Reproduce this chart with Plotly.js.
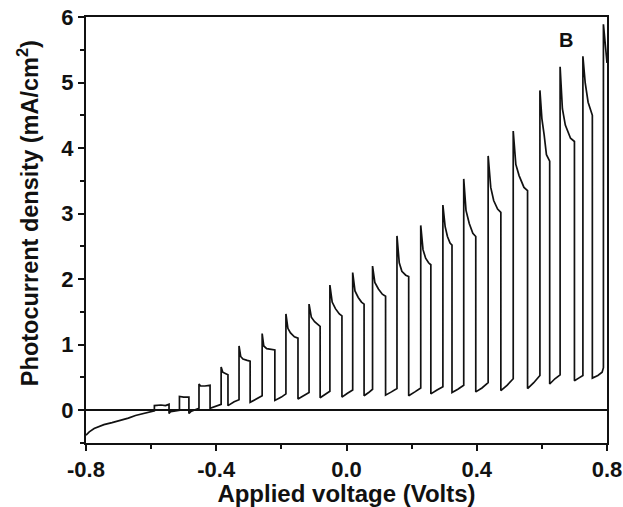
<!DOCTYPE html>
<html>
<head>
<meta charset="utf-8">
<script src="https://cdn.plot.ly/plotly-3.0.1.min.js"></script>
<style>html,body{margin:0;padding:0;background:#fff;}#chart{width:623px;height:507px;}</style>
</head>
<body>
<div id="chart"></div>
<script>
// Applied voltage (V) and photocurrent density (mA/cm^2)
const voltage = [
  -0.800,-0.790,-0.775,-0.760,-0.745,-0.720,-0.696,-0.670,-0.648,-0.620,-0.600,-0.590,
  -0.590,-0.570,-0.556,-0.545,-0.545,-0.540,-0.525,-0.513,
  -0.513,-0.500,-0.484,-0.484,-0.478,-0.465,-0.453,
  -0.453,-0.448,-0.435,-0.419,-0.419,-0.400,-0.385,
  -0.385,-0.380,-0.372,-0.364,-0.364,-0.345,-0.330,
  -0.330,-0.325,-0.318,-0.305,-0.296,-0.296,-0.277,-0.259,
  -0.259,-0.254,-0.245,-0.232,-0.220,-0.220,-0.200,-0.186,
  -0.186,-0.180,-0.172,-0.160,-0.149,-0.149,-0.130,-0.115,
  -0.115,-0.108,-0.098,-0.088,-0.081,-0.081,-0.065,-0.051,
  -0.051,-0.044,-0.034,-0.022,-0.014,-0.014,0.003,0.019,
  0.019,0.026,0.036,0.046,0.054,0.054,0.068,0.080,
  0.080,0.087,0.098,0.110,0.120,0.120,0.138,0.155,
  0.155,0.162,0.170,0.182,0.191,0.191,0.210,0.228,
  0.228,0.235,0.243,0.252,0.259,0.259,0.278,0.296,
  0.296,0.303,0.310,0.318,0.324,0.324,0.342,0.360,
  0.360,0.367,0.377,0.388,0.397,0.397,0.416,0.435,
  0.435,0.443,0.452,0.464,0.474,0.474,0.493,0.512,
  0.512,0.520,0.530,0.545,0.556,0.556,0.575,0.594,
  0.594,0.600,0.607,0.614,0.624,0.624,0.640,0.656,
  0.656,0.663,0.672,0.688,0.700,0.700,0.713,0.726,
  0.726,0.733,0.742,0.750,0.755,0.755,0.772,0.785,0.789,
  0.789,0.795,0.800
];
const current = [
  -0.38,-0.33,-0.28,-0.25,-0.22,-0.19,-0.16,-0.12,-0.08,-0.05,-0.02,-0.01,
  0.07,0.08,0.07,0.09,-0.05,-0.02,-0.01,0.00,
  0.21,0.20,0.20,-0.05,-0.02,0.00,0.03,
  0.40,0.37,0.37,0.38,0.03,0.06,0.09,
  0.66,0.58,0.56,0.54,0.07,0.13,0.16,
  0.98,0.82,0.78,0.76,0.75,0.12,0.17,0.22,
  1.17,0.98,0.94,0.93,0.92,0.15,0.20,0.25,
  1.47,1.25,1.18,1.12,1.10,0.17,0.22,0.27,
  1.62,1.42,1.35,1.30,1.28,0.19,0.24,0.29,
  1.91,1.65,1.55,1.47,1.44,0.20,0.26,0.31,
  2.10,1.82,1.72,1.65,1.62,0.22,0.27,0.32,
  2.20,1.95,1.85,1.77,1.74,0.23,0.28,0.33,
  2.66,2.25,2.12,2.06,2.04,0.22,0.28,0.34,
  2.82,2.45,2.32,2.25,2.22,0.25,0.31,0.36,
  3.13,2.80,2.65,2.55,2.52,0.27,0.32,0.38,
  3.53,3.05,2.85,2.70,2.65,0.28,0.34,0.42,
  3.88,3.40,3.20,3.07,3.02,0.30,0.38,0.48,
  4.26,3.75,3.58,3.40,3.35,0.33,0.42,0.53,
  4.88,4.45,4.20,3.90,3.80,0.40,0.48,0.54,
  5.24,4.60,4.35,4.15,4.10,0.45,0.49,0.53,
  5.40,5.00,4.70,4.55,4.50,0.49,0.53,0.58,0.65,
  5.89,5.50,5.30
];
const xTickVals = [-0.8, -0.4, 0.0, 0.4, 0.8];
const xTickText = ["-0.8", "-0.4", "0.0", "0.4", "0.8"];
const yTickVals = [0, 1, 2, 3, 4, 5, 6];
const yTickText = ["0", "1", "2", "3", "4", "5", "6"];
const xTitle = 'Applied voltage (Volts)';
const yTitle = 'Photocurrent density (mA/cm<sup>2</sup>)';
const panelLabel = 'B';

const trace = {
  x: voltage, y: current, type: 'scatter', mode: 'lines',
  line: {color: '#111', width: 1.7}, hoverinfo: 'skip', showlegend: false
};

const fontFam = 'Arial, "Liberation Sans", Helvetica, sans-serif';
const tickFont = {size: 22, family: fontFam, color: '#111', weight: 'bold'};
const layout = {
  width: 623, height: 507,
  margin: {l: 86, r: 16, t: 17, b: 64, pad: 0},
  paper_bgcolor: '#fff', plot_bgcolor: '#fff',
  font: {family: fontFam, color: '#111', size: 22},
  xaxis: {
    range: [-0.8, 0.8], tickvals: xTickVals, ticktext: xTickText,
    ticks: 'outside', ticklen: 6, tickwidth: 2, tickcolor: '#111',
    minor: {tickvals: [-0.6, -0.2, 0.2, 0.6], ticks: 'outside', ticklen: 4, tickwidth: 2, tickcolor: '#111'},
    showline: true, linecolor: '#111', linewidth: 2, mirror: true,
    showgrid: false, zeroline: false,
    tickfont: tickFont,
    title: {text: xTitle, font: {size: 24, family: fontFam, weight: 'bold'}, standoff: 2}
  },
  yaxis: {
    range: [-0.5, 6], tickvals: yTickVals, ticktext: yTickText,
    ticks: 'outside', ticklen: 6, tickwidth: 2, tickcolor: '#111',
    minor: {tickvals: [-0.5, 0.5, 1.5, 2.5, 3.5, 4.5, 5.5], ticks: 'outside', ticklen: 4, tickwidth: 2, tickcolor: '#111'},
    showline: true, linecolor: '#111', linewidth: 2, mirror: true,
    showgrid: false, zeroline: true, zerolinecolor: '#111', zerolinewidth: 2,
    tickfont: tickFont
  },
  annotations: [
    {
      text: panelLabel, x: 0.674, y: 5.65, xref: 'x', yref: 'y', showarrow: false,
      font: {size: 20, family: fontFam, color: '#111', weight: 'bold'}
    },
    {
      text: yTitle, textangle: -90, x: -0.111, y: 0.54, xref: 'paper', yref: 'paper',
      xanchor: 'center', yanchor: 'middle', showarrow: false,
      font: {size: 23.5, family: fontFam, color: '#111', weight: 'bold'}
    }
  ]
};

Plotly.newPlot('chart', [trace], layout, {displayModeBar: false, staticPlot: true});
</script>
</body>
</html>
